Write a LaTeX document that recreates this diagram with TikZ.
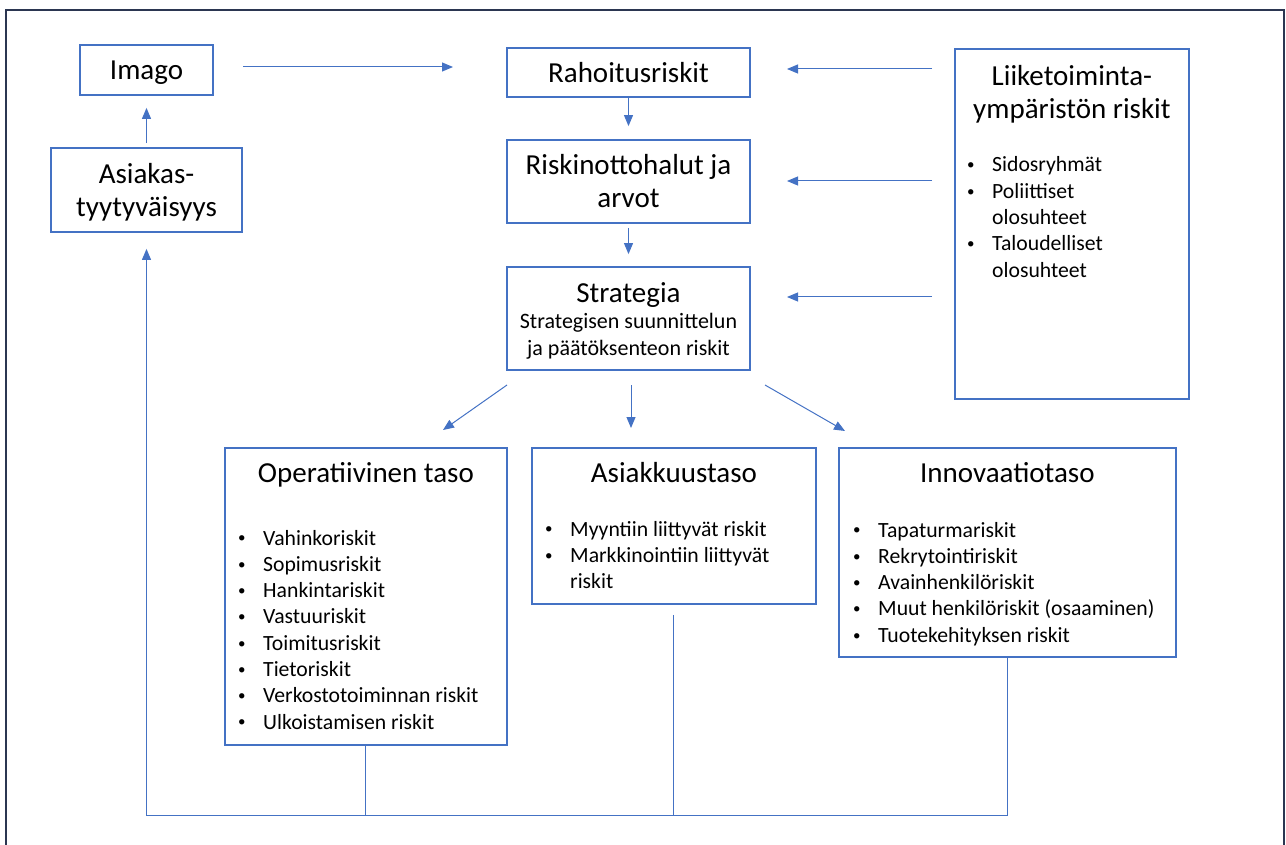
\documentclass[tikz,border=0pt]{standalone}
\usepackage{fontspec}
\setmainfont{Carlito}
\usepackage{tikz}
\usetikzlibrary{arrows.meta,positioning,calc}
\definecolor{boxblue}{HTML}{4472C4}
\definecolor{framenavy}{HTML}{2B3651}
\newcommand{\hdfont}{\fontsize{29}{33}\selectfont}
\newcommand{\itfont}{\fontsize{21.7}{26.3}\selectfont}
\newcommand{\bul}{\makebox[26.5pt][l]{\hspace{1.5pt}\raisebox{2.2pt}{\fontsize{15}{15}\selectfont\textbullet}}}
\newcommand{\nobul}{\hspace*{26.5pt}}
\tikzset{bx/.style={draw=boxblue,line width=1.8pt,fill=white,inner sep=0pt,align=center,font=\hdfont},
hd/.style={inner sep=0pt,align=center,font=\hdfont,anchor=base},
ls/.style={inner sep=0pt,align=left,font=\itfont,anchor=base west},
fl/.style={draw=boxblue,line width=1pt,-{Triangle[length=11pt,width=9pt]}},
ln/.style={draw=boxblue,line width=1pt}}

\begin{document}
\begin{tikzpicture}[x=1pt,y=-1pt]
\useasboundingbox (0,0) rectangle (1286,845);
\draw[framenavy,line width=1.6pt] (6,10) rectangle (1284,900);

% left column
\node[bx,minimum width=133pt,minimum height=50pt,text depth=0pt] (imago) at (146.5,70) {Imago};
\node[bx,minimum width=191pt,minimum height=84pt] (tyyt) at (146.5,190) {};
\node[hd] (tyyttext) at (146.5,217) {Asiakas-\\tyytyväisyys};

% centre column
\node[bx,minimum width=243pt,minimum height=49pt] (rah) at (628.5,72.5) {Rahoitusriskit};
\node[bx,minimum width=243pt,minimum height=83pt] (risk) at (628.5,181.5) {Riskinottohalut ja\\arvot};
\node[bx,minimum width=243pt,minimum height=103pt] (strat) at (628.5,318.5) {};
\node[hd] (strattitle) at (628.5,302) {Strategia};
\node[hd,font=\fontsize{22}{26.3}\selectfont] (stratsub) at (628.5,355.3) {Strategisen suunnittelun\\ja päätöksenteon riskit};

% environment box
\node[bx,minimum width=234pt,minimum height=350pt,anchor=north west] (liike) at (954,48) {};
\node[hd] (liiketitle) at (liike.north |- 0,119) {Liiketoiminta-\\ympäristön riskit};
\node[ls] (liikelist) at (965.5,277.2) {\bul Sidosryhmät\\\bul Poliittiset\\\nobul olosuhteet\\\bul Taloudelliset\\\nobul olosuhteet};

% levels
\node[bx,minimum width=282pt,minimum height=297pt,anchor=north west] (oper) at (224,447) {};
\node[hd] (opertitle) at (oper.north |- 0,482) {Operatiivinen taso};
\node[ls] (operlist) at (236.5,729.1) {\bul Vahinkoriskit\\\bul Sopimusriskit\\\bul Hankintariskit\\\bul Vastuuriskit\\\bul Toimitusriskit\\\bul Tietoriskit\\\bul Verkostotoiminnan riskit\\\bul Ulkoistamisen riskit};

\node[bx,minimum width=284pt,minimum height=156pt,anchor=north west] (asiak) at (531,447) {};
\node[hd] (asiaktitle) at (asiak.north |- 0,482) {Asiakkuustaso};
\node[ls] (asiaklist) at (543.5,588.6) {\bul Myyntiin liittyvät riskit\\\bul Markkinointiin liittyvät\\\nobul riskit};

\node[bx,minimum width=337pt,minimum height=209pt,anchor=north west] (innov) at (838,447) {};
\node[hd] (innovtitle) at (innov.north |- 0,482) {Innovaatiotaso};
\node[ls] (innovlist) at (851.5,642.2) {\bul Tapaturmariskit\\\bul Rekrytointiriskit\\\bul Avainhenkilöriskit\\\bul Muut henkilöriskit (osaaminen)\\\bul Tuotekehityksen riskit};

% free arrow ends
\coordinate (imgout) at (243,67);
\coordinate (imgin) at (453,67);
\coordinate (fanl) at (507,385);
\coordinate (fanlend) at (443,430);
\coordinate (fanm) at (631,385);
\coordinate (fanmend) at (631,428);
\coordinate (fanr) at (765,385);
\coordinate (fanrend) at (845,431);
\coordinate (bus) at (0,815);

% connectors
\draw[fl] ([yshift=4pt]tyyt.north) -- ([yshift=-12pt]imago.south);
\draw[fl] (imgout) -- (imgin);
\draw[fl] (rah.south) -- ([yshift=13pt]risk.north);
\draw[fl] ([yshift=-4pt]risk.south) -- ([yshift=12pt]strat.north);
\foreach \n/\y in {1/69,2/181,3/297}{
  \coordinate (envout\n) at (932,\y);
  \coordinate (envin\n) at (787,\y);
  \draw[fl] (envout\n) -- (envin\n);
}
\draw[fl] (fanl) -- (fanlend);
\draw[fl] (fanm) -- (fanmend);
\draw[fl] (fanr) -- (fanrend);
\draw[ln] (oper.south) -- (oper.south |- bus);
\draw[ln] ([yshift=-10pt]asiak.south) -- (asiak.south |- bus);
\draw[fl] (innov.south) -- (innov.south |- bus) -| ([yshift=-16pt]tyyt.south);
\end{tikzpicture}
\end{document}
